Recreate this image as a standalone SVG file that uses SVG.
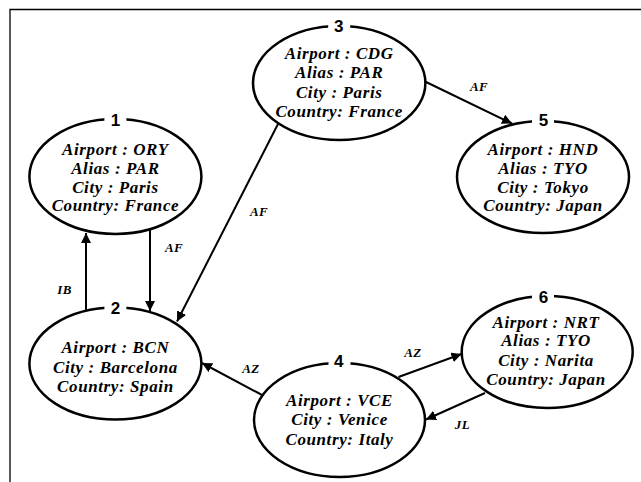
<svg xmlns="http://www.w3.org/2000/svg" width="641" height="482" viewBox="0 0 641 482">
  <defs>
    <marker id="arrow" markerWidth="10" markerHeight="10" refX="10" refY="5" orient="auto" markerUnits="userSpaceOnUse">
      <path d="M0,0 L10,5 L0,10 z" fill="#000"/>
    </marker>
  </defs>
  <style>
    .node ellipse { fill: #fff; stroke: #000; stroke-width: 2.5; }
    .node rect { fill: #fff; }
    .num { font-family: "Liberation Sans", Arial, sans-serif; font-weight: bold; font-size: 17px; text-anchor: middle; fill: #000; }
    .attr { font-family: "Liberation Serif", "Times New Roman", serif; font-weight: bold; font-style: italic; font-size: 17px; letter-spacing: 0.6px; text-anchor: middle; fill: #000; }
    .edges line { stroke: #000; stroke-width: 2; marker-end: url(#arrow); }
    .elabel { font-family: "Liberation Serif", "Times New Roman", serif; font-weight: bold; font-style: italic; font-size: 13px; letter-spacing: 0.4px; text-anchor: middle; fill: #000; }
  </style>

  <rect width="641" height="482" fill="#fff"/>
  <!-- frame -->
  <path d="M10,482 V9.5 H641" fill="none" stroke="#000" stroke-width="1.3"/>

  <!-- airports -->
  <g id="node1" class="node">
    <ellipse cx="115.4" cy="176.5" rx="86" ry="57.5"/>
    <rect x="104.4" y="112" width="22" height="14"/>
    <text class="num" x="115.5" y="126">1</text>
    <text class="attr" x="115.4" y="155">Airport : ORY</text>
    <text class="attr" x="115.4" y="174">Alias : PAR</text>
    <text class="attr" x="115.4" y="192.7">City : Paris</text>
    <text class="attr" x="115.4" y="211">Country: France</text>
  </g>

  <g id="node2" class="node">
    <ellipse cx="115.4" cy="363.5" rx="86" ry="56"/>
    <rect x="104.4" y="300.5" width="22" height="14"/>
    <text class="num" x="115.5" y="314.3">2</text>
    <text class="attr" x="115.4" y="353.3">Airport : BCN</text>
    <text class="attr" x="115.4" y="372.7">City : Barcelona</text>
    <text class="attr" x="115.4" y="391.7">Country: Spain</text>
  </g>

  <g id="node3" class="node">
    <ellipse cx="339.2" cy="83" rx="86.2" ry="57"/>
    <rect x="328.2" y="19" width="22" height="14"/>
    <text class="num" x="338.8" y="32">3</text>
    <text class="attr" x="339.2" y="58.5">Airport : CDG</text>
    <text class="attr" x="339.2" y="78">Alias : PAR</text>
    <text class="attr" x="339.2" y="97.5">City : Paris</text>
    <text class="attr" x="339.2" y="117">Country: France</text>
  </g>

  <g id="node4" class="node">
    <ellipse cx="339.5" cy="420" rx="85.5" ry="57"/>
    <rect x="328.5" y="354" width="22" height="14"/>
    <text class="num" x="338.8" y="367">4</text>
    <text class="attr" x="339.5" y="406">Airport : VCE</text>
    <text class="attr" x="339.5" y="425">City : Venice</text>
    <text class="attr" x="339.5" y="445">Country: Italy</text>
  </g>

  <g id="node5" class="node">
    <ellipse cx="543" cy="177" rx="86" ry="56"/>
    <rect x="532" y="113" width="22" height="14"/>
    <text class="num" x="543.4" y="126">5</text>
    <text class="attr" x="543" y="155">Airport : HND</text>
    <text class="attr" x="543" y="174">Alias : TYO</text>
    <text class="attr" x="543" y="192.7">City : Tokyo</text>
    <text class="attr" x="543" y="211">Country: Japan</text>
  </g>

  <g id="node6" class="node">
    <ellipse cx="547.2" cy="352" rx="85.5" ry="56"/>
    <rect x="532" y="289" width="22" height="14"/>
    <text class="num" x="543.4" y="302.6">6</text>
    <text class="attr" x="546" y="327.7">Airport : NRT</text>
    <text class="attr" x="546" y="346">Alias : TYO</text>
    <text class="attr" x="546" y="366">City : Narita</text>
    <text class="attr" x="546" y="385">Country: Japan</text>
  </g>

  <!-- flights -->
  <g id="edges" class="edges">
    <line x1="86" y1="310" x2="86" y2="233"/>
    <text class="elabel" x="64.6" y="293.8">IB</text>

    <line x1="150" y1="230" x2="150" y2="311"/>
    <text class="elabel" x="174" y="251.8">AF</text>

    <line x1="278" y1="124" x2="177" y2="321.5"/>
    <text class="elabel" x="259" y="216">AF</text>

    <line x1="425" y1="81.5" x2="512" y2="123.5"/>
    <text class="elabel" x="479" y="91">AF</text>

    <line x1="262" y1="395" x2="202" y2="363"/>
    <text class="elabel" x="251" y="373">AZ</text>

    <line x1="398.5" y1="377" x2="461.5" y2="354"/>
    <text class="elabel" x="413" y="356.5">AZ</text>

    <line x1="485" y1="393" x2="426" y2="419.5"/>
    <text class="elabel" x="462.4" y="429">JL</text>
  </g>
</svg>
